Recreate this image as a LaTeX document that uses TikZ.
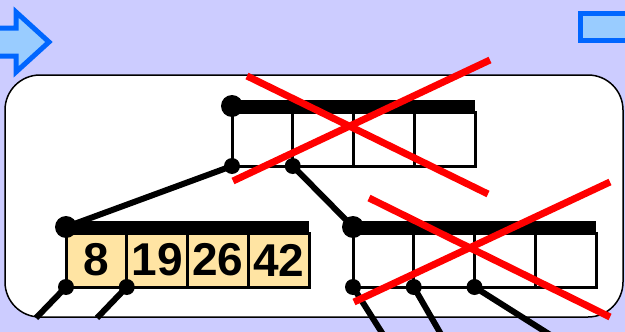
\documentclass[tikz,border=0pt]{standalone}
\usepackage{fontspec}
\setsansfont{Liberation Sans}
\usetikzlibrary{positioning}

\definecolor{lavender}{HTML}{CCCCFF}
\definecolor{navblue}{HTML}{0066FF}
\definecolor{navfill}{HTML}{99CCFF}
\definecolor{keyfill}{HTML}{FFE4A3}

\begin{document}
\begin{tikzpicture}[
    x=1pt, y=-1pt,
    cell/.style={rectangle, draw, line width=3pt, outer sep=0pt, inner sep=0pt,
                 minimum width=60.75pt, minimum height=54pt,
                 font=\sffamily\bfseries\fontsize{46}{46}\selectfont},
    key/.style={cell, fill=keyfill},
    bar/.style={line width=12pt},
    edge/.style={line width=6pt},
    nav/.style={draw=navblue, fill=navfill, line width=5pt, line join=miter},
    cross/.style={draw=red, line width=7pt}
]
  % Background and panel
  \fill[lavender] (0,0) rectangle (625,332);
  \useasboundingbox (0,0) rectangle (625,332);
  \draw[fill=white, line width=1.5pt, rounded corners=35pt] (5,75) rectangle (623,317);

  % Navigation buttons
  \draw[nav] (-5,28) -- (16,28) -- (16,12) -- (49,42) -- (16,72) -- (16,56) -- (-5,56) -- cycle;
  \draw[nav] (580,13) rectangle (640,40);

  % Root node
  \node[cell, anchor=north west] (r1) at (232,112) {};
  \node[cell, right=0pt of r1] (r2) {};
  \node[cell, right=0pt of r2] (r3) {};
  \node[cell, right=0pt of r3] (r4) {};

  % Left child
  \node[key, anchor=north west] (a1) at (66,233) {8};
  \node[key, right=0pt of a1] (a2) {19};
  \node[key, right=0pt of a2] (a3) {26};
  \node[key, right=0pt of a3] (a4) {42};

  % Right child
  \node[cell, anchor=north west] (b1) at (353,233) {};
  \node[cell, right=0pt of b1] (b2) {};
  \node[cell, right=0pt of b2] (b3) {};
  \node[cell, right=0pt of b3] (b4) {};

  % Header bars and dots
  \draw[bar] ([yshift=6pt]r1.north west) -- ([yshift=6pt]r4.north east);
  \draw[bar] ([yshift=6pt]a1.north west) -- ([yshift=6pt]a4.north east);
  \draw[bar] ([yshift=6pt]b1.north west) -- ([yshift=6pt]b4.north east);
  \fill ([yshift=6pt]r1.north west) circle (11);
  \fill ([yshift=6pt]a1.north west) circle (11);
  \fill ([yshift=6pt]b1.north west) circle (11);

  % Pointers
  \draw[edge] (r1.south west) -- ([yshift=6pt]a1.north west);
  \draw[edge] (r2.south west) -- ([yshift=6pt]b1.north west);
  \coordinate (la) at (36,318);
  \coordinate (lb) at (97,318);
  \coordinate (ra) at (384,336);
  \coordinate (rb) at (442,336);
  \coordinate (rc) at (552,336);
  \draw[edge] (a1.south west) -- (la);
  \draw[edge] (a2.south west) -- (lb);
  \draw[edge] (b1.south west) -- (ra);
  \draw[edge] (b2.south west) -- (rb);
  \draw[edge] (b3.south west) -- (rc);
  \foreach \p in {r1, r2, a1, a2, b1, b2, b3}
    \fill (\p.south west) circle (8);

  % Deleted nodes
  \draw[cross] (247,76) -- (488,194);
  \draw[cross] (490,60) -- (233,181);
  \draw[cross] (369,198) -- (610,317);
  \draw[cross] (610,182) -- (354,302);
\end{tikzpicture}
\end{document}
